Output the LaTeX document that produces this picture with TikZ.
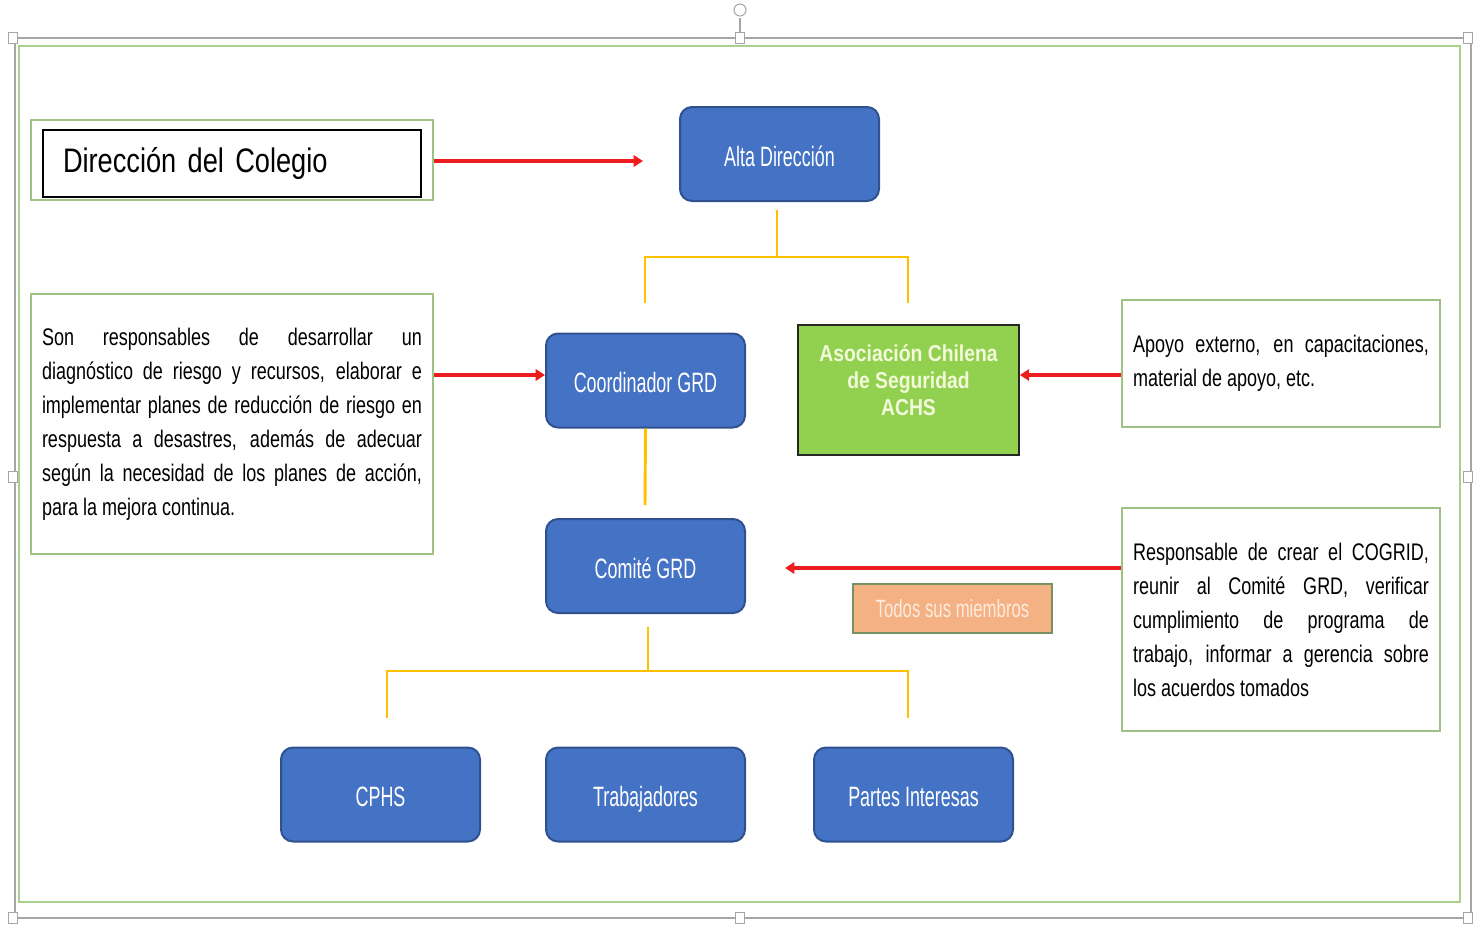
\documentclass[tikz,border=0pt]{standalone}
\usepackage{fontspec}
\setmainfont{Liberation Sans}
\newfontfamily\fDir{Liberation Sans}[FakeStretch=0.8,WordSpace=0.6]
\newfontfamily\fBody{Liberation Sans}[FakeStretch=0.75]
\newfontfamily\fLab{Liberation Sans}[FakeStretch=0.64]
\newfontfamily\fTodos{Liberation Sans}[FakeStretch=0.67]
\newfontfamily\fAchs{Liberation Sans}[FakeStretch=0.84]
\usetikzlibrary{arrows.meta}
\definecolor{blueF}{HTML}{4472C4}
\definecolor{blueD}{HTML}{2F528F}
\definecolor{gold}{HTML}{FFC000}
\definecolor{grn}{HTML}{92D050}
\definecolor{frameG}{HTML}{A9D18E}
\definecolor{boxG}{HTML}{9DC283}
\definecolor{peach}{HTML}{F4B183}
\definecolor{peachT}{HTML}{FDEBDD}
\definecolor{achsT}{HTML}{F3FAD9}
\definecolor{redA}{HTML}{EE1C1C}
\definecolor{selG}{HTML}{A6A6A6}
\tikzset{
  bluebox/.style={rectangle, rounded corners=9pt, fill=blueF, draw=blueD, line width=1.5pt,
    minimum width=149.25pt, minimum height=70.5pt, text=white, text height=19pt, text depth=1pt,
    font=\fLab\fontsize{21}{24}\selectfont},
  txtbox/.style={rectangle, draw=boxG, line width=1.2pt, align=justify, inner xsep=8.25pt,
    font=\fBody\fontsize{18}{25.5}\selectfont},
  redarrow/.style={draw=redA, line width=2.5pt, -{Triangle[length=7pt,width=8.5pt]}},
  goldline/.style={draw=gold, line width=2.2pt},
  handle/.style={rectangle, draw=selG, fill=white, line width=0.8pt, minimum width=7pt, minimum height=8.5pt, inner sep=0pt},
}
\begin{document}
\begin{tikzpicture}[x=0.75pt,y=-0.75pt]
\useasboundingbox (0,0) rectangle (1483,926);
% selection frame
\draw[selG, line width=1.2pt] (13,38) -- (1468,38);
\draw[selG, line width=1.2pt] (13,918) -- (1468,918);
\draw[selG, line width=1pt] (15,38) -- (15,918);
\draw[selG, line width=1pt] (1471,38) -- (1471,918);
\draw[selG, line width=0.8pt] (740,33) -- (740,18);
\draw[selG, line width=0.8pt, fill=white] (740,10) circle (6);
\foreach \n/\p in {h1/{(13,38)},h2/{(740,38)},h3/{(1468,38)},h4/{(13,477)},h5/{(1468,477)},h6/{(13,918)},h7/{(740,918)},h8/{(1468,918)}}
  \node[handle] (\n) at \p {};
% green frame
\draw[frameG, line width=1.5pt] (19,46) rectangle (1460,902);

% Direccion del Colegio
\node[rectangle, draw=boxG, line width=1.2pt, minimum width=301.5pt, minimum height=60pt] (dcOuter) at (232,160) {};
\node[rectangle, draw=black, line width=1pt, minimum width=283.5pt, minimum height=50.25pt,
  text width=253.5pt, inner xsep=15pt, align=left, font=\fDir\fontsize{25.5}{28}\selectfont] (dcInner) at (232,163.5) {Dirección del Colegio};

% blue boxes
\node[bluebox] (alta) at (779.5,154) {Alta Dirección};
\node[bluebox] (coord) at (645.5,380.5) {Coordinador GRD};
\node[bluebox] (comite) at (645.5,566) {Comité GRD};
\node[bluebox] (cphs) at (380.5,794.5) {CPHS};
\node[bluebox] (trab) at (645.5,794.5) {Trabajadores};
\node[bluebox] (partes) at (913.5,794.5) {Partes Interesas};

% ACHS
\node[rectangle, fill=grn, draw=black!85, line width=1.2pt, minimum width=165.75pt, minimum height=97.5pt] (achs) at (908.5,390) {};
\node[align=center, text=achsT, font=\fAchs\bfseries\fontsize{17.25}{20}\selectfont] (achsText) at (908.5,380) {Asociación Chilena\\de Seguridad\\ACHS};

% Todos sus miembros
\node[rectangle, fill=peach, draw=frameG!70!black, line width=1.2pt, minimum width=149.25pt, minimum height=36.75pt,
  text=peachT, font=\fTodos\fontsize{18.75}{20}\selectfont] (todos) at (952.5,608.5) {Todos sus miembros};

% text boxes
\node[txtbox, text width=285pt, minimum height=195pt] (leftbox) at (232,424)
 {Son responsables de desarrollar un\linebreak diagnóstico de riesgo y recursos, elaborar e\linebreak implementar planes de reducción de riesgo en\linebreak respuesta a desastres, además de adecuar\linebreak según la necesidad de los planes de acción,\linebreak para la mejora continua.};
\node[txtbox, text width=222pt, minimum height=95.25pt] (rbox1) at (1281,363.5)
 {Apoyo externo, en capacitaciones,\linebreak material de apoyo, etc.};
\node[txtbox, text width=222pt, minimum height=167.25pt] (rbox2) at (1281,619.5)
 {Responsable de crear el COGRID,\linebreak reunir al Comité GRD, verificar\linebreak cumplimiento de programa de\linebreak trabajo, informar a gerencia sobre\linebreak los acuerdos tomados};

% red arrows
\coordinate (a1end) at (643,161);
\draw[redarrow] (dcOuter.east |- 0,161) -- (a1end);
\draw[redarrow] (leftbox.east |- 0,375) -- (coord.west |- 0,375);
\draw[redarrow] (rbox1.west |- 0,375) -- (achs.east |- 0,375);
\coordinate (a4end) at (785,568);
\draw[redarrow] (rbox2.west |- 0,568) -- (a4end);

% gold tree connectors
\coordinate (t0) at (777,210);
\coordinate (t1) at (777,257);
\coordinate (tl) at (645,257);
\coordinate (tr) at (908,257);
\coordinate (tl2) at (645,303);
\coordinate (tr2) at (908,303);
\draw[goldline] (t0) -- (t1);
\draw[goldline] (tl2) -- (tl) -- (tr) -- (tr2);
\coordinate (m1) at (645,505);
\draw[goldline] (coord.south) -- (m1);
\coordinate (b0) at (648,627);
\coordinate (b1) at (648,671);
\coordinate (bl) at (387,671);
\coordinate (br) at (908,671);
\coordinate (bl2) at (387,718);
\coordinate (br2) at (908,718);
\draw[goldline] (b0) -- (b1);
\draw[goldline] (bl2) -- (bl) -- (br) -- (br2);
\end{tikzpicture}
\end{document}
